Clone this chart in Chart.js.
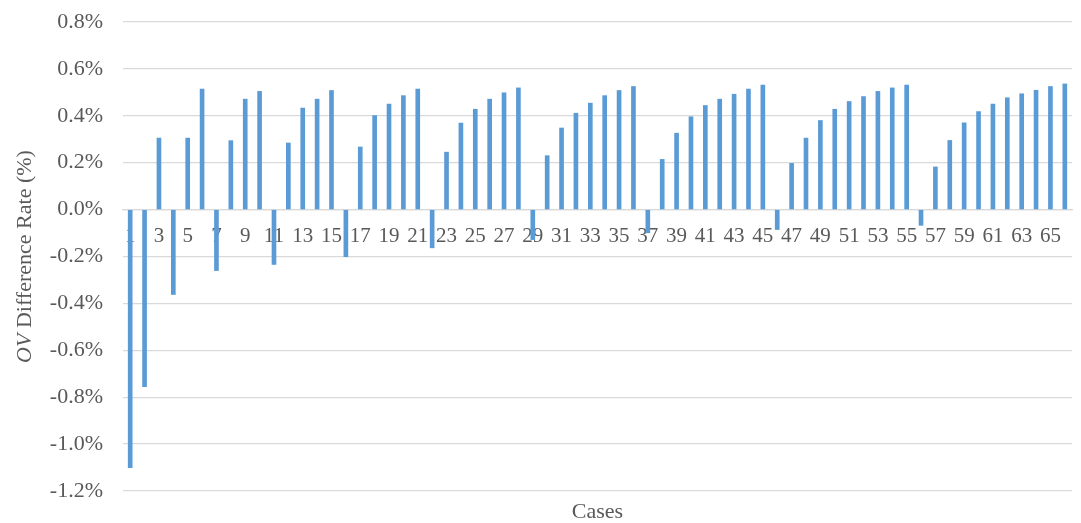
<!DOCTYPE html>
<html>
<head>
<meta charset="utf-8">
<script src="https://cdn.jsdelivr.net/npm/chart.js@4/dist/chart.umd.min.js"></script>
<style>
  html, body { margin: 0; padding: 0; background: #fff; }
  canvas { display: block; }
</style>
</head>
<body>
<canvas id="chart" width="1081" height="523"></canvas>
<script>
// case numbers along the x axis
const cases = [
   1,  2,  3,  4,  5,  6,  7,  8,  9, 10, 11, 12, 13, 14, 15, 16, 17, 18, 19, 20, 21, 22,
  23, 24, 25, 26, 27, 28, 29, 30, 31, 32, 33, 34, 35, 36, 37, 38, 39, 40, 41, 42, 43, 44,
  45, 46, 47, 48, 49, 50, 51, 52, 53, 54, 55, 56, 57, 58, 59, 60, 61, 62, 63, 64, 65, 66
];

// OV difference rate, in percent
const diffRate = [
  -1.10, -0.755, 0.305, -0.362, 0.305, 0.514, -0.26, 0.294, 0.471, 0.504, -0.234,
  0.284, 0.433, 0.471, 0.508, -0.201, 0.267, 0.401, 0.45, 0.486, 0.514, -0.163,
  0.245, 0.369, 0.428, 0.471, 0.498, 0.519, -0.128, 0.23, 0.348, 0.411, 0.454,
  0.486, 0.508, 0.525, -0.099, 0.214, 0.326, 0.396, 0.444, 0.471, 0.492, 0.514,
  0.531, -0.085, 0.197, 0.305, 0.38, 0.428, 0.461, 0.482, 0.504, 0.519, 0.531,
  -0.067, 0.182, 0.295, 0.37, 0.418, 0.45, 0.477, 0.494, 0.509, 0.525, 0.536
];

const yMin = -1.2;
const yMax = 0.8;
const yStep = 0.2;

const textColor = '#595959';
const gridColor = '#d9d9d9';
const serif = "'Liberation Serif', 'Times New Roman', serif";

// axis titles: the y title has an italic "OV", so draw it by hand
const titlesPlugin = {
    id: 'titles',
    afterDraw(chart) {
        const ctx = chart.ctx;
        const area = chart.chartArea;
        ctx.save();
        ctx.fillStyle = textColor;
        ctx.textBaseline = 'middle';

        // x title
        ctx.font = `22px ${serif}`;
        ctx.textAlign = 'center';
        ctx.fillText('Cases', (area.left + area.right) / 2, 512);

        // y title
        const italicFont = `italic 22px ${serif}`;
        const normalFont = `22px ${serif}`;
        const a = 'OV', b = ' Difference Rate (%)';
        ctx.font = italicFont;
        const wa = ctx.measureText(a).width;
        ctx.font = normalFont;
        const wb = ctx.measureText(b).width;
        ctx.translate(25, (area.top + area.bottom) / 2);
        ctx.rotate(-Math.PI / 2);
        ctx.textAlign = 'left';
        const start = -(wa + wb) / 2;
        ctx.font = italicFont;
        ctx.fillText(a, start, 0);
        ctx.font = normalFont;
        ctx.fillText(b, start + wa, 0);
        ctx.restore();
    }
};

new Chart(document.getElementById('chart').getContext('2d'), {
    type: 'bar',
    data: {
        labels: cases,
        datasets: [{
            data: diffRate,
            backgroundColor: '#5b9bd5',
            barThickness: 4,
            borderWidth: 0
        }]
    },
    options: {
        responsive: false,
        animation: false,
        layout: { padding: { left: 0, right: 9, top: 22, bottom: 32 } },
        plugins: { legend: { display: false }, tooltip: { enabled: false } },
        scales: {
            x: {
                position: { y: 0 },
                afterFit: s => { s.height = 0; s.paddingLeft = 0; s.paddingRight = 0; },
                grid: { display: false, drawTicks: false },
                border: { display: true, color: gridColor, width: 1.3 },
                ticks: {
                    autoSkip: false,
                    maxRotation: 0,
                    padding: 14,
                    color: textColor,
                    font: { family: serif, size: 21 },
                    callback: (v, i) => (i % 2 === 0 ? cases[i] : '')
                }
            },
            y: {
                min: yMin,
                max: yMax,
                afterFit: s => { s.width = 123; s.paddingTop = 0; s.paddingBottom = 0; },
                grid: { color: gridColor, lineWidth: 1.3, drawTicks: false },
                border: { display: false },
                ticks: {
                    stepSize: yStep,
                    padding: 20,
                    color: textColor,
                    font: { family: serif, size: 22 },
                    callback: v => v.toFixed(1) + '%'
                }
            }
        }
    },
    plugins: [titlesPlugin]
});
</script>
</body>
</html>
